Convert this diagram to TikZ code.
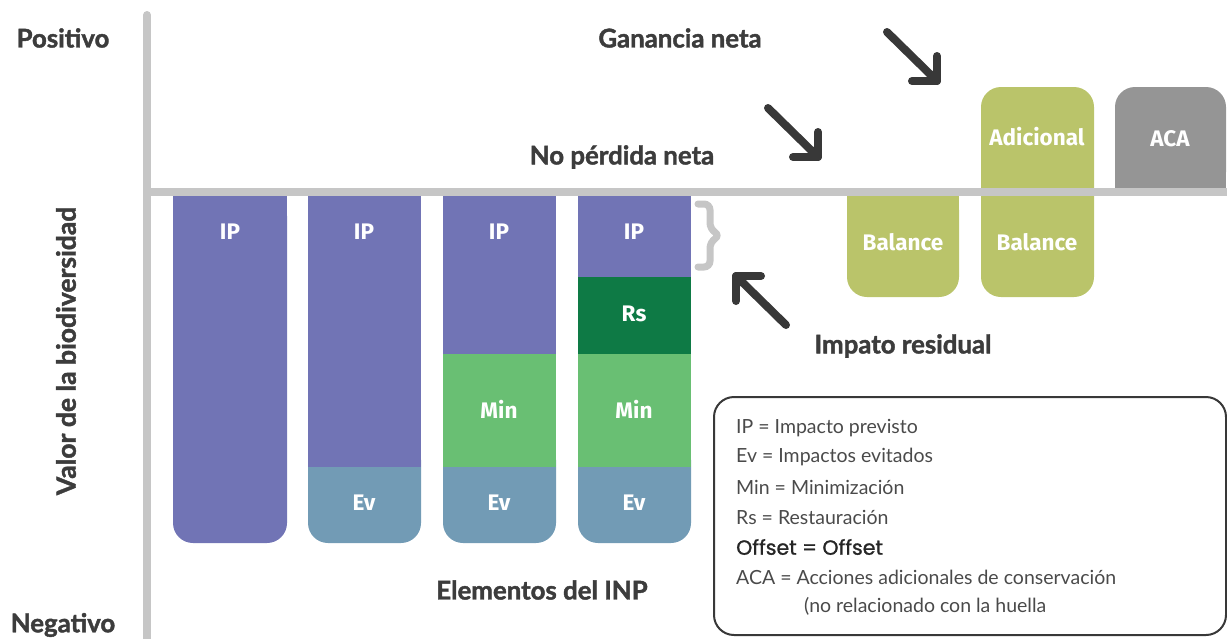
\documentclass[tikz,border=0pt]{standalone}
\usepackage{fontspec}
\setmainfont{Lato}
\newfontfamily\headfont{Lato}[BoldFeatures={FakeBold=1.6}]
\newfontfamily\fira{Fira Sans}
\newfontfamily\popp{Poppins}[FakeBold=1.2]
\usetikzlibrary{positioning}
\definecolor{ipc}{HTML}{7174B5}
\definecolor{evc}{HTML}{729BB5}
\definecolor{minc}{HTML}{69BF73}
\definecolor{rsc}{HTML}{0E7A45}
\definecolor{balc}{HTML}{BAC46A}
\definecolor{acac}{HTML}{959595}
\definecolor{axisc}{HTML}{C6C6C6}
\definecolor{txtc}{HTML}{3C3C3C}
\definecolor{arrc}{HTML}{383838}
\definecolor{legc}{HTML}{4A4A4A}
\tikzset{
  head/.style={font=\headfont\fontsize{25.8}{28}\selectfont\bfseries, text=txtc, inner sep=0pt},
  barlbl/.style={font=\fira\fontsize{22.5}{24}\selectfont\bfseries, text=white, inner sep=0pt},
  arrline/.style={draw=arrc, line width=8pt, line cap=round, line join=round},
  axisline/.style={draw=axisc, line width=8pt},
  legline/.style={font=\fontsize{19.5}{22}\selectfont, text=legc, anchor=west, inner sep=0pt},
}
\begin{document}
\begin{tikzpicture}[x=1pt,y=-1pt]
\useasboundingbox (0,0) rectangle (1227,638);
% ---- bars ----
% col1
\fill[ipc, rounded corners=20pt] (173,196) rectangle (287,543);
\fill[ipc] (173,190) rectangle (287,230);
% col2
\fill[evc, rounded corners=20pt] (308,440) rectangle (421,543);
\fill[ipc] (308,190) rectangle (421,467);
% col3
\fill[evc, rounded corners=20pt] (443,440) rectangle (556,543);
\fill[minc] (443,354) rectangle (556,467);
\fill[ipc] (443,190) rectangle (556,354);
% col4
\fill[evc, rounded corners=20pt] (578,440) rectangle (691,543);
\fill[minc] (578,354) rectangle (691,467);
\fill[rsc] (578,277) rectangle (691,354);
\fill[ipc] (578,190) rectangle (691,277);
% ---- balance boxes ----
\fill[balc, rounded corners=20pt] (847,190) rectangle (959,297);
\fill[balc] (847,190) rectangle (959,230);
\fill[balc, rounded corners=20pt] (981,87) rectangle (1094,297);
\fill[acac, rounded corners=20pt] (1115,87) rectangle (1226,192);
\fill[acac] (1115,150) rectangle (1226,192);
% ---- axes ----
\coordinate (ytop) at (147,15);
\coordinate (ybot) at (147,645);
\coordinate (xl) at (147,192);
\coordinate (xr) at (1232,192);
\draw[axisline] (xl) -- (xr);
\draw[axisline, line cap=round] (ytop) -- (ybot);
% ---- bar labels ----
\node[barlbl] (ip1) at (230,232) {IP};
\node[barlbl] (ip2) at (364,232) {IP};
\node[barlbl] (ip3) at (499,232) {IP};
\node[barlbl] (ip4) at (634,232) {IP};
\node[barlbl] (rs4) at (634,314) {Rs};
\node[barlbl] (min3) at (499,409) {Min};
\node[barlbl] (min4) at (634,409) {Min};
\node[barlbl] (ev2) at (364,503) {Ev};
\node[barlbl] (ev3) at (499,503) {Ev};
\node[barlbl] (ev4) at (634,503) {Ev};
\node[barlbl] (bal1) at (903,242) {Balance};
\node[barlbl] (bal2) at (1037,242) {Balance};
\node[barlbl] (adic) at (1037,137) {Adicional};
\node[barlbl] (aca) at (1170,139) {ACA};
% ---- brace ----
\coordinate (br1) at (698,204);
\coordinate (br2) at (698,267);
\coordinate (brt) at (720,235.5);
\draw[draw=axisc, line width=7pt, line cap=round, rounded corners=6pt]
  (br1) -- (710,204) -- (710,229) -- (brt) -- (710,242) -- (710,267) -- (br2);
% ---- arrows ----
\coordinate (a1s) at (887,32);
\coordinate (a1t) at (937,81);
\coordinate (a2s) at (768,108);
\coordinate (a2t) at (818,157);
\coordinate (a3s) at (786,325);
\coordinate (a3t) at (736,276);
\draw[arrline] (a1s) -- (a1t);
\draw[arrline] ([yshift=25pt]a1t) -- (a1t) -- ([xshift=-25pt]a1t);
\draw[arrline] (a2s) -- (a2t);
\draw[arrline] ([yshift=25pt]a2t) -- (a2t) -- ([xshift=-25pt]a2t);
\draw[arrline] (a3s) -- (a3t);
\draw[arrline] ([yshift=-25pt]a3t) -- (a3t) -- ([xshift=25pt]a3t);
% ---- headings ----
\node[head] (pos) at (63,38) {Positivo};
\node[head] (neg) at (63,625) {Negativo};
\node[head, rotate=90, font=\headfont\fontsize{26.5}{28}\selectfont\bfseries] (valor) at (66,351) {Valor de la biodiversidad};
\node[head] (gan) at (680,38) {Ganancia neta};
\node[head] (nop) at (622,157) {No pérdida neta};
\node[head] (imp) at (903,346) {Impato residual};
\node[head] (elem) at (542,590) {Elementos del INP};
% ---- legend ----
\draw[draw=arrc, line width=2pt, rounded corners=20pt] (714,397) rectangle (1226,635);
\node[legline] (l1) at (736,428) {IP = Impacto previsto};
\node[legline] (l2) at (736,457) {Ev = Impactos evitados};
\node[legline] (l3) at (736,487) {Min = Minimización};
\node[legline] (l4) at (736,517) {Rs = Restauración};
\node[legline, font=\popp\fontsize{20.5}{22}\selectfont, text=black!85] (l5) at (736,547) {Offset = Offset};
\node[legline] (l6) at (736,577) {ACA = Acciones adicionales de conservación};
\node[legline] (l7) at (804,606) {(no relacionado con la huella};
\end{tikzpicture}
\end{document}
